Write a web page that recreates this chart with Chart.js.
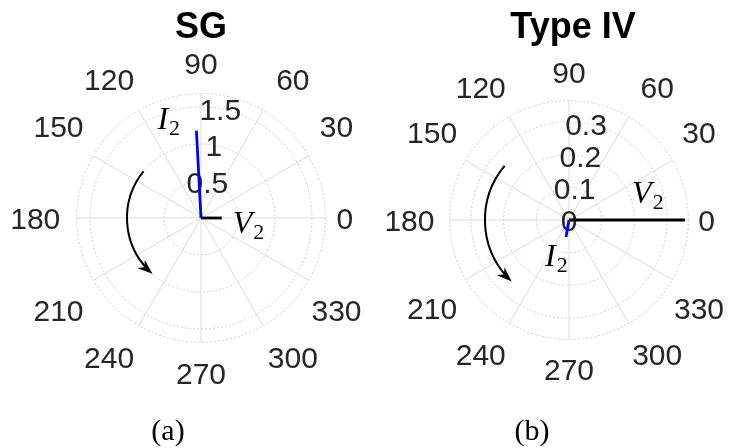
<!DOCTYPE html>
<html><head><meta charset="utf-8">
<script src="https://cdn.jsdelivr.net/npm/chart.js@4.4.0/dist/chart.umd.min.js"></script>
<style>
html,body{margin:0;padding:0;background:#fff;width:735px;height:448px;overflow:hidden}
#wrap{position:relative;width:735px;height:448px}
canvas{position:absolute;top:0}
</style></head><body>
<div id="wrap">
<canvas id="c1" width="367" height="448" style="left:0"></canvas>
<canvas id="c2" width="368" height="448" style="left:367px"></canvas>
</div>
<script>
// ---- data ----
const angleTicks = [0, 30, 60, 90, 120, 150, 180, 210, 240, 270, 300, 330];
const phasorNames = ['V', 'I'];              // V2, I2
const phasorColors = ['#000000', '#0000ff'];
const sgMagnitudes = [0.28, 1.18];
const sgAngles = [0, 93];
const sgRingTicks = [0.5, 1, 1.5];
const sgRMax = 1.68;
const typeIVMagnitudes = [0.355, 0.053];
const typeIVAngles = [0, 260];
const typeIVRingTicks = [0, 0.1, 0.2, 0.3];
const typeIVRMax = 0.365;
const titles = ['SG', 'Type IV'];
const captions = ['(a)', '(b)'];

const rad = d => d * Math.PI / 180;

function makePanel(canvasId, opt) {
  const cv = document.getElementById(canvasId);
  const W = cv.width, H = cv.height;
  const k = opt.k;
  const datasets = opt.mags.map((m, i) => ({
    label: phasorNames[i] + '2',
    data: [{x: 0, y: 0}, {x: m * Math.cos(rad(opt.angs[i])), y: m * Math.sin(rad(opt.angs[i]))}],
    showLine: true,
    borderColor: phasorColors[i],
    backgroundColor: phasorColors[i],
    borderWidth: 2.8,
    pointRadius: 0,
    borderCapStyle: 'butt'
  }));
  const polarPlugin = {
    id: 'polarGrid',
    beforeDatasetsDraw(chart) {
      const ctx = chart.ctx, xs = chart.scales.x, ys = chart.scales.y;
      const P = (r, d) => ({x: xs.getPixelForValue(r * Math.cos(rad(d))), y: ys.getPixelForValue(r * Math.sin(rad(d)))});
      const c = P(0, 0);
      const pr = r => xs.getPixelForValue(r) - xs.getPixelForValue(0);
      ctx.save();
      ctx.strokeStyle = '#d0d0d0';
      ctx.lineWidth = 1;
      ctx.setLineDash([2, 2]);
      const rings = opt.rings.filter(r => r > 0).concat([opt.rmax]);
      rings.forEach(r => { ctx.beginPath(); ctx.arc(c.x, c.y, pr(r), 0, Math.PI * 2); ctx.stroke(); });
      ctx.setLineDash([]);
      ctx.strokeStyle = '#dcdcdc';
      angleTicks.forEach(a => {
        const p = P(opt.rmax, a);
        ctx.beginPath(); ctx.moveTo(c.x, c.y); ctx.lineTo(p.x, p.y); ctx.stroke();
      });
      // angle labels
      ctx.fillStyle = '#262626';
      ctx.font = '30px "Liberation Sans", Arial, sans-serif';
      ctx.textAlign = 'center';
      ctx.textBaseline = 'middle';
      angleTicks.forEach(a => {
        const rr = opt.rmax * (1.245 + 0.11 * Math.abs(Math.sin(rad(2 * a))));
        const aa = a + 4 * Math.sin(rad(4 * a));
        const p = P(rr, aa);
        ctx.fillText(String(a), p.x - 11 * Math.pow(Math.cos(rad(a)), 8), p.y + 3);
      });
      // ring labels along 80 degrees
      opt.rings.forEach(r => {
        const p = P(r, 80);
        ctx.fillText(String(r), p.x, p.y + 3);
      });
      ctx.restore();
    },
    afterDatasetsDraw(chart) {
      const ctx = chart.ctx, xs = chart.scales.x, ys = chart.scales.y;
      const P = (r, d) => ({x: xs.getPixelForValue(r * Math.cos(rad(d))), y: ys.getPixelForValue(r * Math.sin(rad(d)))});
      const c = P(0, 0);
      const pr = r => xs.getPixelForValue(r) - xs.getPixelForValue(0);
      ctx.save();
      // rotation arrow
      const R = pr(opt.arc[0]);
      ctx.strokeStyle = '#000';
      ctx.fillStyle = '#000';
      ctx.lineWidth = 2;
      ctx.beginPath();
      ctx.arc(c.x, c.y, R, -rad(opt.arc[1]), -rad(opt.arc[2] - 4), true);
      ctx.stroke();
      const te = rad(opt.arc[2]);
      const tip = {x: c.x + R * Math.cos(te), y: c.y - R * Math.sin(te)};
      const dx = -Math.sin(te), dy = -Math.cos(te);
      const nx = -dy, ny = dx;
      const L = 15, Wd = 5.5;
      ctx.beginPath();
      ctx.moveTo(tip.x, tip.y);
      ctx.lineTo(tip.x - dx * L + nx * Wd, tip.y - dy * L + ny * Wd);
      ctx.lineTo(tip.x - dx * L * 0.7, tip.y - dy * L * 0.7);
      ctx.lineTo(tip.x - dx * L - nx * Wd, tip.y - dy * L - ny * Wd);
      ctx.closePath();
      ctx.fill();
      // phasor name labels
      opt.mags.forEach((m, i) => {
        const t = P(m, opt.angs[i]);
        const off = opt.nameOffsets[i];
        const x = t.x + off[0], y = t.y + off[1];
        ctx.fillStyle = '#000';
        ctx.textAlign = 'left';
        ctx.textBaseline = 'alphabetic';
        ctx.font = 'italic 32px "Liberation Serif", "Times New Roman", serif';
        ctx.fillText(phasorNames[i], x, y);
        const w = ctx.measureText(phasorNames[i]).width;
        ctx.font = '22px "Liberation Serif", "Times New Roman", serif';
        ctx.fillText('2', x + w + 1, y + 6);
      });
      // title
      ctx.fillStyle = '#000';
      ctx.textAlign = 'center';
      ctx.textBaseline = 'alphabetic';
      ctx.font = 'bold 36px "Liberation Sans", Arial, sans-serif';
      ctx.fillText(opt.title, opt.titleX, 38);
      // caption
      ctx.font = '30px "Liberation Serif", "Times New Roman", serif';
      ctx.fillText(opt.caption, opt.captionX, 440);
      ctx.restore();
    }
  };
  return new Chart(cv, {
    type: 'scatter',
    data: {datasets},
    options: {
      responsive: false,
      animation: false,
      layout: {padding: 0},
      plugins: {legend: {display: false}, tooltip: {enabled: false}, title: {display: false}},
      scales: {
        x: {type: 'linear', display: false, min: -opt.cx / k, max: (W - opt.cx) / k},
        y: {type: 'linear', display: false, min: -(H - opt.cy) / k, max: opt.cy / k}
      }
    },
    plugins: [polarPlugin]
  });
}

makePanel('c1', {
  k: 74, cx: 201, cy: 218,
  mags: sgMagnitudes, angs: sgAngles, rings: sgRingTicks, rmax: sgRMax,
  arc: [1.0, 141, 229],
  nameOffsets: [[11, 15], [-39, -2]],
  title: titles[0], titleX: 201, caption: captions[0], captionX: 168
});
makePanel('c2', {
  k: 327, cx: 202, cy: 220,
  mags: typeIVMagnitudes, angs: typeIVAngles, rings: typeIVRingTicks, rmax: typeIVRMax,
  arc: [0.257, 140, 227],
  nameOffsets: [[-53, -17], [-21, 29]],
  title: titles[1], titleX: 206, caption: captions[1], captionX: 165
});
</script>
</body></html>
